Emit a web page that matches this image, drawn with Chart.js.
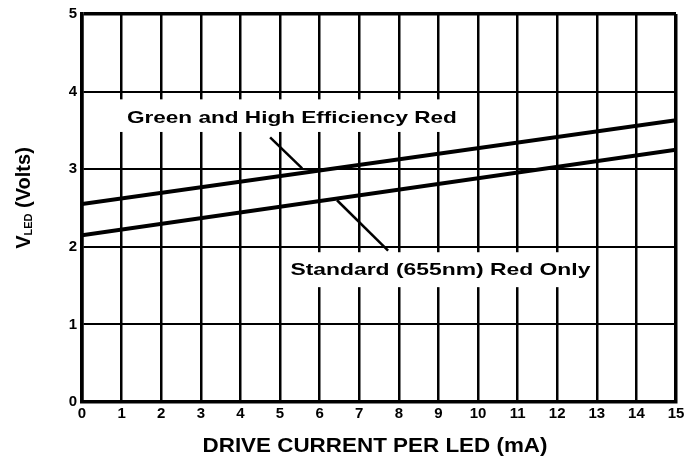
<!DOCTYPE html>
<html>
<head>
<meta charset="utf-8">
<script src="https://cdn.jsdelivr.net/npm/chart.js@4.4.1/dist/chart.umd.min.js"></script>
<style>
  html, body { margin: 0; padding: 0; background: #fff; }
  #wrap { width: 688px; height: 462px; }
</style>
</head>
<body>
<div id="wrap"><canvas id="c" width="688" height="462"></canvas></div>
<script>
// values
const currentMA = [0, 15];
const greenHerVolts = [2.55, 3.63];
const stdRedVolts = [2.15, 3.25];

const xTitle = 'DRIVE CURRENT PER LED (mA)';
const greenLabel = 'Green and High Efficiency Red';
const stdLabel = 'Standard (655nm) Red Only';

function toPoints(xs, ys) {
    return xs.map((x, i) => ({ x: x, y: ys[i] }));
}

// the scanned lettering is wider than Liberation Sans, so stretch it to width
function wideText(ctx, text, cx, cy, font, width) {
    ctx.save();
    ctx.font = font;
    ctx.textAlign = 'center';
    ctx.textBaseline = 'middle';
    const k = width / ctx.measureText(text).width;
    ctx.translate(cx, cy);
    ctx.scale(k, 1);
    ctx.fillText(text, 0, 0);
    ctx.restore();
}

// labels with white box and leader line, drawn in data coords
const notes = [
    { text: greenLabel, x: 5.3, y: 3.66, w: 330, box: [0.9, 9.5, 3.48, 3.9], lead: [4.75, 3.41, 5.56, 3.01] },
    { text: stdLabel, x: 9.05, y: 1.70, w: 300, box: [5.1, 12.85, 1.48, 1.93], lead: [6.44, 2.60, 7.73, 1.95] }
];

const notesPlugin = {
    id: 'notes',
    afterDraw(chart) {
        const ctx = chart.ctx;
        const xs = chart.scales.x, ys = chart.scales.y;
        ctx.save();
        ctx.fillStyle = '#000';
        notes.forEach(n => {
            const x1 = xs.getPixelForValue(n.box[0]), x2 = xs.getPixelForValue(n.box[1]);
            const y1 = ys.getPixelForValue(n.box[3]), y2 = ys.getPixelForValue(n.box[2]);
            ctx.fillStyle = '#fff';
            ctx.fillRect(x1, y1, x2 - x1, y2 - y1);
            ctx.fillStyle = '#000';
            wideText(ctx, n.text, xs.getPixelForValue(n.x), ys.getPixelForValue(n.y),
                'bold 17px "Liberation Sans", Arial, sans-serif', n.w);
            ctx.strokeStyle = '#000';
            ctx.lineWidth = 2.5;
            ctx.beginPath();
            ctx.moveTo(xs.getPixelForValue(n.lead[0]), ys.getPixelForValue(n.lead[1]));
            ctx.lineTo(xs.getPixelForValue(n.lead[2]), ys.getPixelForValue(n.lead[3]));
            ctx.stroke();
        });

        // x axis title
        wideText(ctx, xTitle, 375, 446, 'bold 21px "Liberation Sans", Arial, sans-serif', 345);

        // y axis title with subscript
        ctx.translate(24, 198);
        ctx.rotate(-Math.PI / 2);
        const big = 'bold 20px "Liberation Sans", Arial, sans-serif';
        const small = 'bold 11px "Liberation Sans", Arial, sans-serif';
        ctx.font = big;
        const wV = ctx.measureText('V').width;
        const wRest = ctx.measureText(' (Volts)').width;
        ctx.font = small;
        const wSub = ctx.measureText('LED').width;
        let cx = -(wV + wSub + wRest) / 2;
        ctx.textAlign = 'left';
        ctx.textBaseline = 'middle';
        ctx.font = big;
        ctx.fillText('V', cx, 0);
        cx += wV;
        ctx.font = small;
        ctx.fillText('LED', cx, 5);
        cx += wSub;
        ctx.font = big;
        ctx.fillText(' (Volts)', cx, 0);
        ctx.restore();
    }
};

const tickFont = { family: '"Liberation Sans", Arial, sans-serif', size: 15, weight: 'bold' };

new Chart(document.getElementById('c'), {
    type: 'line',
    data: {
        datasets: [
            {
                label: greenLabel,
                data: toPoints(currentMA, greenHerVolts),
                borderColor: '#000',
                borderWidth: 4,
                pointRadius: 0,
                fill: false
            },
            {
                label: stdLabel,
                data: toPoints(currentMA, stdRedVolts),
                borderColor: '#000',
                borderWidth: 4,
                pointRadius: 0,
                fill: false
            }
        ]
    },
    options: {
        responsive: false,
        animation: false,
        layout: { padding: { top: 8, right: 12, left: 0, bottom: 0 } },
        plugins: {
            legend: { display: false },
            tooltip: { enabled: false }
        },
        scales: {
            x: {
                type: 'linear',
                min: 0,
                max: 15,
                afterFit: s => { s.height = 60; },
                ticks: { stepSize: 1, color: '#000', font: tickFont, padding: 3, maxRotation: 0 },
                grid: {
                    color: '#000',
                    drawTicks: false,
                    lineWidth: c => (c.index === 15 ? 3.5 : 2.5)
                },
                border: { display: true, color: '#000', width: 3.5 }
            },
            y: {
                min: 0,
                max: 5,
                afterFit: s => { s.width = 82; },
                ticks: { stepSize: 1, color: '#000', font: tickFont, padding: 5 },
                grid: {
                    color: '#000',
                    drawTicks: false,
                    lineWidth: c => (c.index === 5 ? 3.5 : 2)
                },
                border: { display: true, color: '#000', width: 3.5 }
            }
        }
    },
    plugins: [notesPlugin]
});
</script>
</body>
</html>
